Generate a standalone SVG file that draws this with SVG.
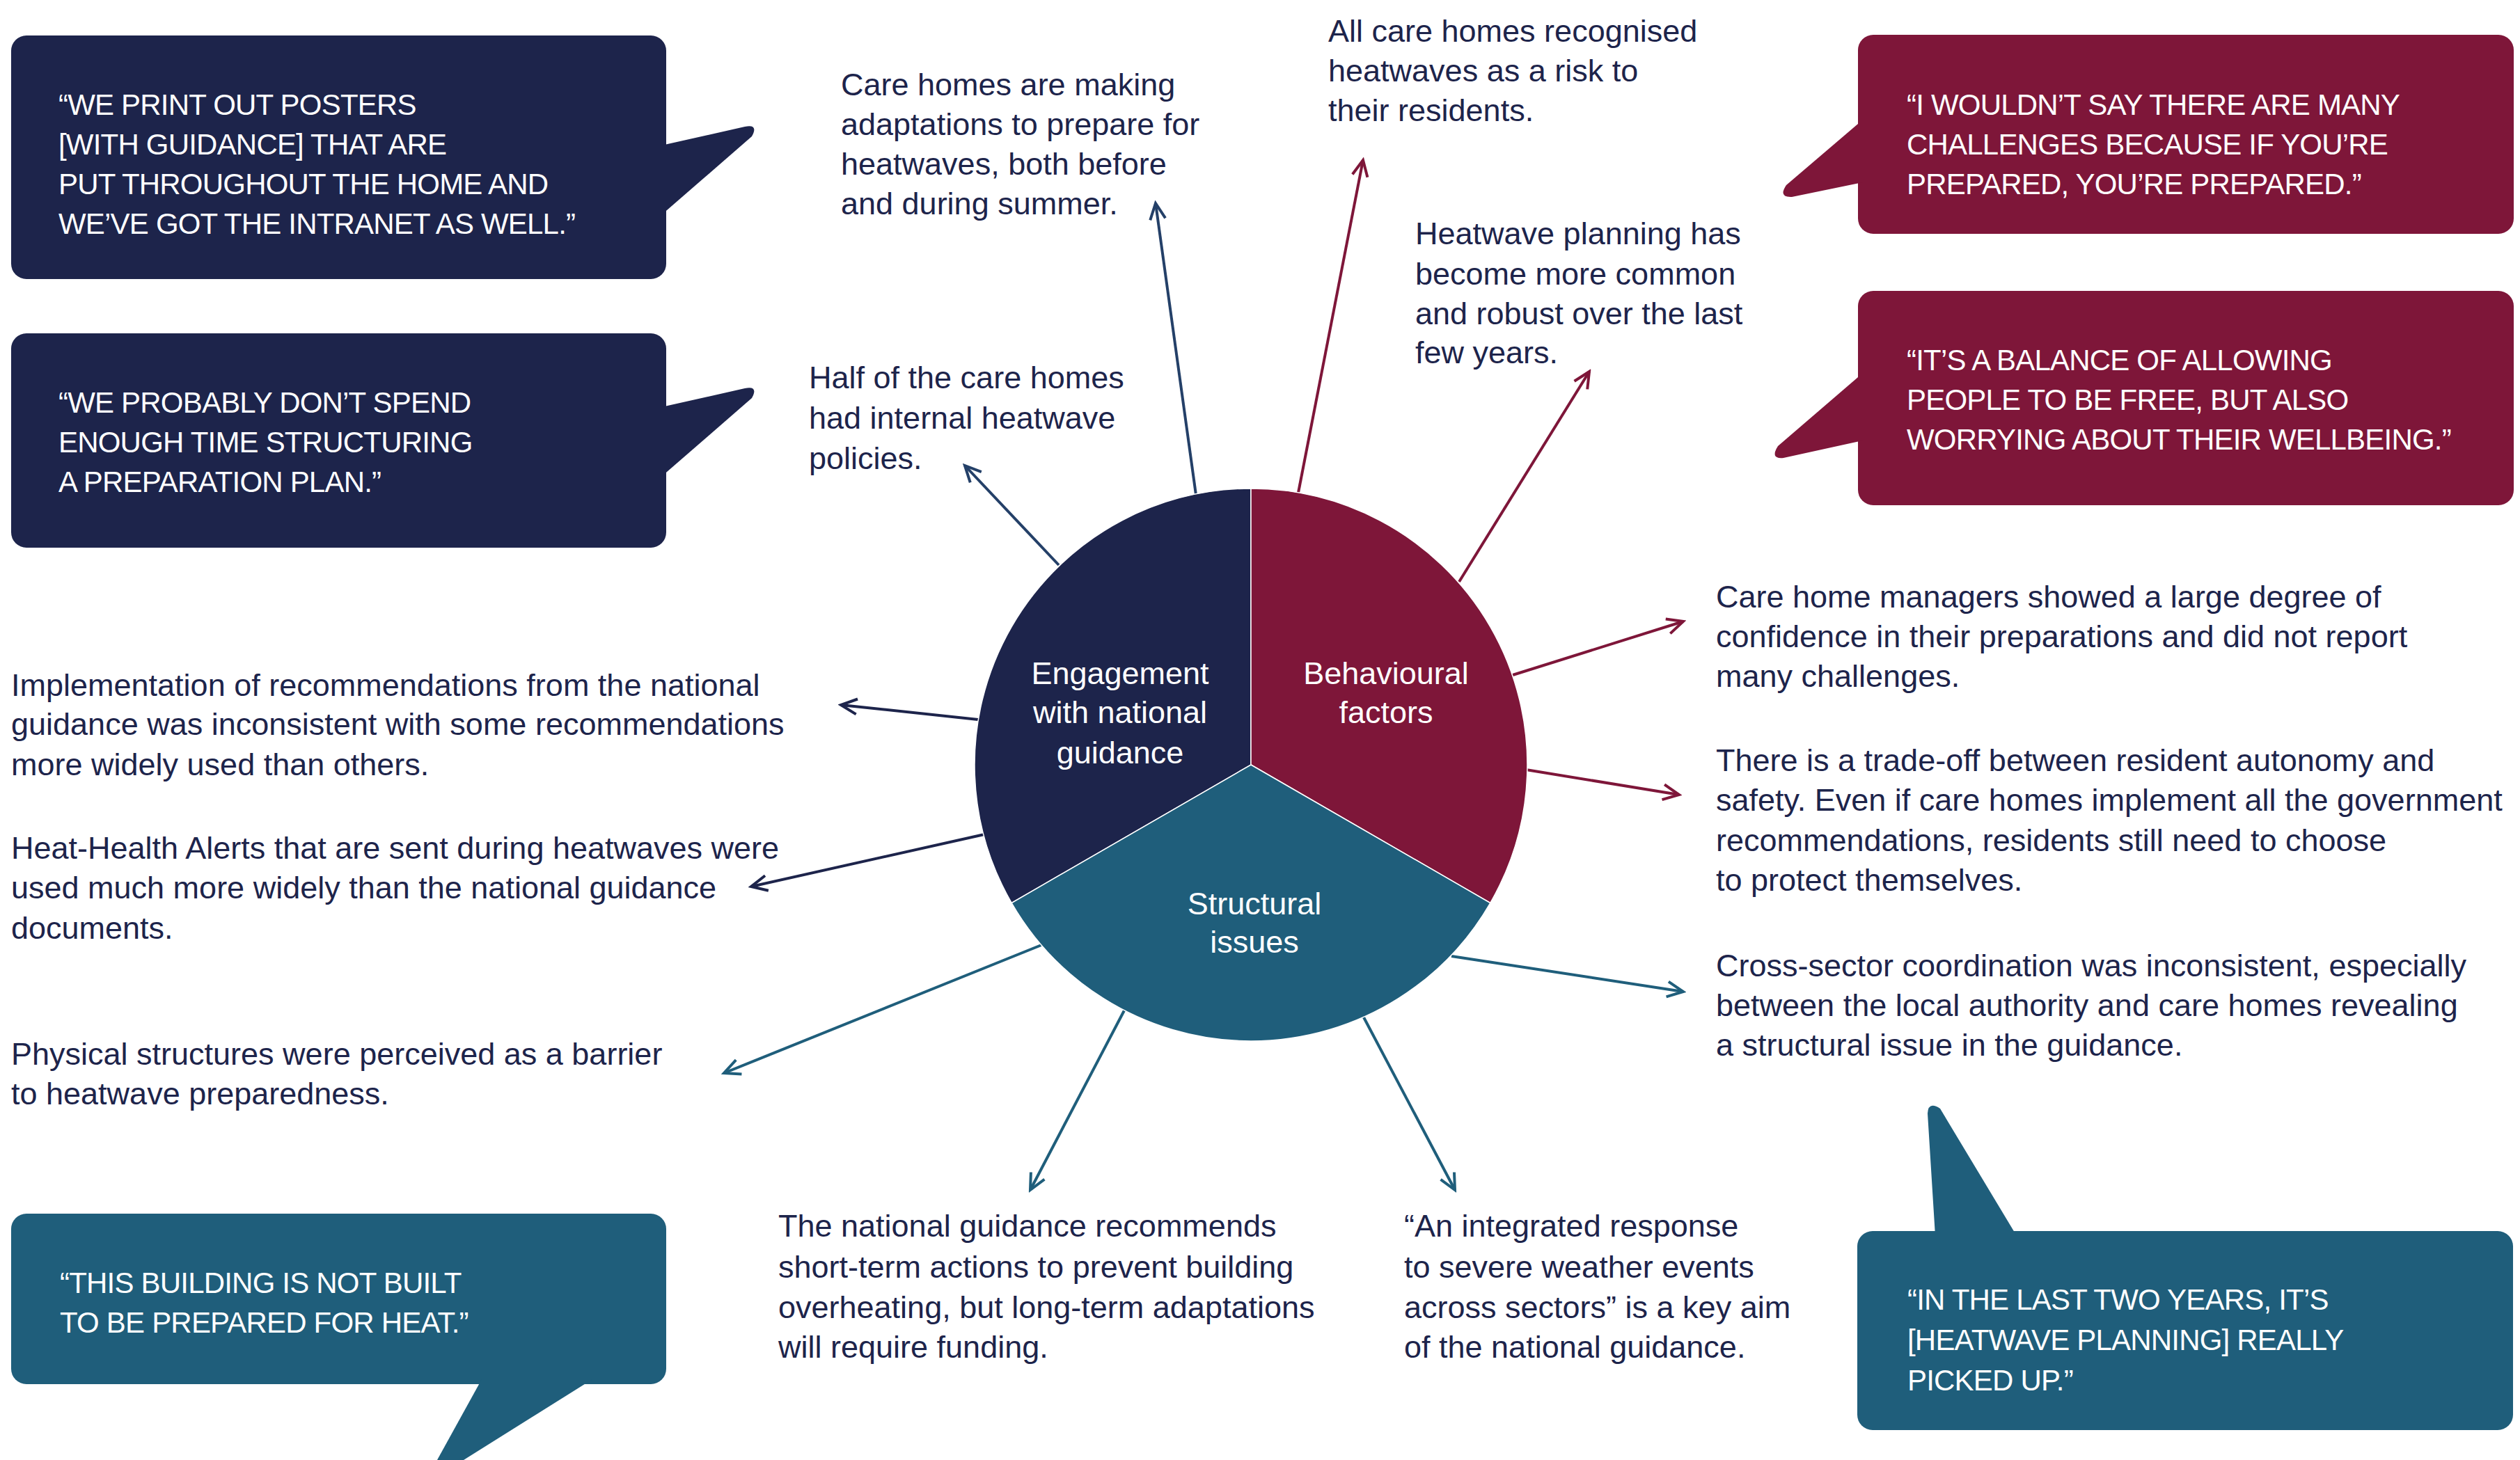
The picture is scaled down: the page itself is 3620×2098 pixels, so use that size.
<svg xmlns="http://www.w3.org/2000/svg" width="3620" height="2098" viewBox="0 0 3620 2098">
<style>
.body{font-family:"Liberation Sans",Arial,sans-serif;font-size:45px;fill:#1d244b}
.quote{font-family:"Liberation Sans",Arial,sans-serif;font-size:42px;letter-spacing:-0.8px;fill:#ffffff}
.pie{font-family:"Liberation Sans",Arial,sans-serif;font-size:45px;fill:#ffffff;text-anchor:middle}
.navy{fill:#1d244b}
.burg{fill:#7e1639}
.teal{fill:#1f5e7b}
.conn{fill:none;stroke-width:4}
</style>
<defs>
<marker id="mSlate" viewBox="-28 -16 32 32" refX="0" refY="0" markerWidth="32" markerHeight="32" markerUnits="userSpaceOnUse" orient="auto"><path d="M-23,-11 L0,0 L-23,11" fill="none" stroke="#244068" stroke-width="4"/></marker>
<marker id="mNavy" viewBox="-28 -16 32 32" refX="0" refY="0" markerWidth="32" markerHeight="32" markerUnits="userSpaceOnUse" orient="auto"><path d="M-23,-11 L0,0 L-23,11" fill="none" stroke="#1d244b" stroke-width="4"/></marker>
<marker id="mBurg" viewBox="-28 -16 32 32" refX="0" refY="0" markerWidth="32" markerHeight="32" markerUnits="userSpaceOnUse" orient="auto"><path d="M-23,-11 L0,0 L-23,11" fill="none" stroke="#7e1639" stroke-width="4"/></marker>
<marker id="mTeal" viewBox="-28 -16 32 32" refX="0" refY="0" markerWidth="32" markerHeight="32" markerUnits="userSpaceOnUse" orient="auto"><path d="M-23,-11 L0,0 L-23,11" fill="none" stroke="#1f5e7b" stroke-width="4"/></marker>
</defs>
<rect width="3620" height="2098" fill="#ffffff"/>

<g id="connectors">
<line class="conn" x1="1718" y1="711" x2="1660" y2="292" stroke="#244068" marker-end="url(#mSlate)"/>
<line class="conn" x1="1521" y1="812" x2="1386" y2="669" stroke="#244068" marker-end="url(#mSlate)"/>
<line class="conn" x1="1405" y1="1034" x2="1208" y2="1013" stroke="#1d244b" marker-end="url(#mNavy)"/>
<line class="conn" x1="1414" y1="1199" x2="1079" y2="1274" stroke="#1d244b" marker-end="url(#mNavy)"/>
<line class="conn" x1="1865" y1="708" x2="1958" y2="230" stroke="#7e1639" marker-end="url(#mBurg)"/>
<line class="conn" x1="2096" y1="836" x2="2283" y2="534" stroke="#7e1639" marker-end="url(#mBurg)"/>
<line class="conn" x1="2173" y1="970" x2="2418" y2="893" stroke="#7e1639" marker-end="url(#mBurg)"/>
<line class="conn" x1="2192" y1="1106" x2="2412" y2="1142" stroke="#7e1639" marker-end="url(#mBurg)"/>
<line class="conn" x1="1496" y1="1358" x2="1040" y2="1542" stroke="#1f5e7b" marker-end="url(#mTeal)"/>
<line class="conn" x1="1615" y1="1452" x2="1480" y2="1710" stroke="#1f5e7b" marker-end="url(#mTeal)"/>
<line class="conn" x1="1958" y1="1460" x2="2090" y2="1710" stroke="#1f5e7b" marker-end="url(#mTeal)"/>
<line class="conn" x1="2085" y1="1374" x2="2418" y2="1425" stroke="#1f5e7b" marker-end="url(#mTeal)"/>
</g>

<g id="pie">
<path class="navy" d="M1797,1099 L1453.2,1297.5 A397,397 0 0 1 1797,702 Z" stroke="#ffffff" stroke-width="1.5"/>
<path class="burg" d="M1797,1099 L1797,702 A397,397 0 0 1 2140.8,1297.5 Z" stroke="#ffffff" stroke-width="1.5"/>
<path class="teal" d="M1797,1099 L2140.8,1297.5 A397,397 0 0 1 1453.2,1297.5 Z" stroke="#ffffff" stroke-width="1.5"/>
</g>
<g id="node-engagement">
<text class="pie" x="1609" y="983">Engagement</text>
<text class="pie" x="1609" y="1039">with national</text>
<text class="pie" x="1609" y="1097">guidance</text>
</g>
<g id="node-behavioural">
<text class="pie" x="1991" y="983">Behavioural</text>
<text class="pie" x="1991" y="1039">factors</text>
</g>
<g id="node-structural">
<text class="pie" x="1802" y="1314">Structural</text>
<text class="pie" x="1802" y="1369">issues</text>
</g>

<g id="quote-posters">
<rect class="navy" x="16" y="51" width="941" height="350" rx="22"/>
<path class="navy" d="M950,209 L1070,182 Q1090,178 1080,196 L950,309 Z"/>
<text class="quote" x="84" y="165">“WE PRINT OUT POSTERS</text>
<text class="quote" x="84" y="222">[WITH GUIDANCE] THAT ARE</text>
<text class="quote" x="84" y="279">PUT THROUGHOUT THE HOME AND</text>
<text class="quote" x="84" y="336">WE’VE GOT THE INTRANET AS WELL.”</text>
</g>
<g id="quote-plan">
<rect class="navy" x="16" y="479" width="941" height="308" rx="22"/>
<path class="navy" d="M950,585 L1070,558 Q1090,554 1080,572 L950,685 Z"/>
<text class="quote" x="84" y="593">“WE PROBABLY DON’T SPEND</text>
<text class="quote" x="84" y="650">ENOUGH TIME STRUCTURING</text>
<text class="quote" x="84" y="707">A PREPARATION PLAN.”</text>
</g>
<g id="quote-challenges">
<rect class="burg" x="2669" y="50" width="942" height="286" rx="22"/>
<path class="burg" d="M2676,172 L2566,266 Q2554,284 2574,283 L2676,262 Z"/>
<text class="quote" x="2739" y="165">“I WOULDN’T SAY THERE ARE MANY</text>
<text class="quote" x="2739" y="222">CHALLENGES BECAUSE IF YOU’RE</text>
<text class="quote" x="2739" y="279">PREPARED, YOU’RE PREPARED.”</text>
</g>
<g id="quote-balance">
<rect class="burg" x="2669" y="418" width="942" height="308" rx="22"/>
<path class="burg" d="M2676,536 L2554,641 Q2542,660 2562,658 L2676,633 Z"/>
<text class="quote" x="2739" y="532">“IT’S A BALANCE OF ALLOWING</text>
<text class="quote" x="2739" y="589">PEOPLE TO BE FREE, BUT ALSO</text>
<text class="quote" x="2739" y="646">WORRYING ABOUT THEIR WELLBEING.”</text>
</g>
<g id="quote-building">
<rect class="teal" x="16" y="1744" width="941" height="245" rx="22"/>
<path class="teal" d="M692,1982 L628,2098 L666,2098 L851,1982 Z"/>
<text class="quote" x="86" y="1858">“THIS BUILDING IS NOT BUILT</text>
<text class="quote" x="86" y="1915">TO BE PREPARED FOR HEAT.”</text>
</g>
<g id="quote-picked-up">
<rect class="teal" x="2668" y="1769" width="942" height="286" rx="22"/>
<path class="teal" d="M2780,1776 L2769,1600 Q2770,1582 2787,1593 L2897,1776 Z"/>
<text class="quote" x="2740" y="1882">“IN THE LAST TWO YEARS, IT’S</text>
<text class="quote" x="2740" y="1940">[HEATWAVE PLANNING] REALLY</text>
<text class="quote" x="2740" y="1998">PICKED UP.”</text>
</g>

<g id="finding-adaptations">
<text class="body" x="1208" y="137">Care homes are making</text>
<text class="body" x="1208" y="194">adaptations to prepare for</text>
<text class="body" x="1208" y="251">heatwaves, both before</text>
<text class="body" x="1208" y="308">and during summer.</text>
</g>
<g id="finding-recognised">
<text class="body" x="1908" y="60">All care homes recognised</text>
<text class="body" x="1908" y="117">heatwaves as a risk to</text>
<text class="body" x="1908" y="174">their residents.</text>
</g>
<g id="finding-planning">
<text class="body" x="2033" y="351">Heatwave planning has</text>
<text class="body" x="2033" y="409">become more common</text>
<text class="body" x="2033" y="466">and robust over the last</text>
<text class="body" x="2033" y="522">few years.</text>
</g>
<g id="finding-policies">
<text class="body" x="1162" y="558">Half of the care homes</text>
<text class="body" x="1162" y="616">had internal heatwave</text>
<text class="body" x="1162" y="674">policies.</text>
</g>
<g id="finding-confidence">
<text class="body" x="2465" y="873">Care home managers showed a large degree of</text>
<text class="body" x="2465" y="930">confidence in their preparations and did not report</text>
<text class="body" x="2465" y="987">many challenges.</text>
</g>
<g id="finding-tradeoff">
<text class="body" x="2465" y="1108">There is a trade-off between resident autonomy and</text>
<text class="body" x="2465" y="1165">safety. Even if care homes implement all the government</text>
<text class="body" x="2465" y="1223">recommendations, residents still need to choose</text>
<text class="body" x="2465" y="1280">to protect themselves.</text>
</g>
<g id="finding-coordination">
<text class="body" x="2465" y="1403">Cross-sector coordination was inconsistent, especially</text>
<text class="body" x="2465" y="1460">between the local authority and care homes revealing</text>
<text class="body" x="2465" y="1517">a structural issue in the guidance.</text>
</g>
<g id="finding-implementation">
<text class="body" x="16" y="1000">Implementation of recommendations from the national</text>
<text class="body" x="16" y="1056">guidance was inconsistent with some recommendations</text>
<text class="body" x="16" y="1114">more widely used than others.</text>
</g>
<g id="finding-alerts">
<text class="body" x="16" y="1234">Heat-Health Alerts that are sent during heatwaves were</text>
<text class="body" x="16" y="1291">used much more widely than the national guidance</text>
<text class="body" x="16" y="1349">documents.</text>
</g>
<g id="finding-physical">
<text class="body" x="16" y="1530">Physical structures were perceived as a barrier</text>
<text class="body" x="16" y="1587">to heatwave preparedness.</text>
</g>
<g id="finding-funding">
<text class="body" x="1118" y="1777">The national guidance recommends</text>
<text class="body" x="1118" y="1836">short-term actions to prevent building</text>
<text class="body" x="1118" y="1894">overheating, but long-term adaptations</text>
<text class="body" x="1118" y="1951">will require funding.</text>
</g>
<g id="finding-integrated">
<text class="body" x="2017" y="1777">“An integrated response</text>
<text class="body" x="2017" y="1836">to severe weather events</text>
<text class="body" x="2017" y="1894">across sectors” is a key aim</text>
<text class="body" x="2017" y="1951">of the national guidance.</text>
</g>
</svg>
